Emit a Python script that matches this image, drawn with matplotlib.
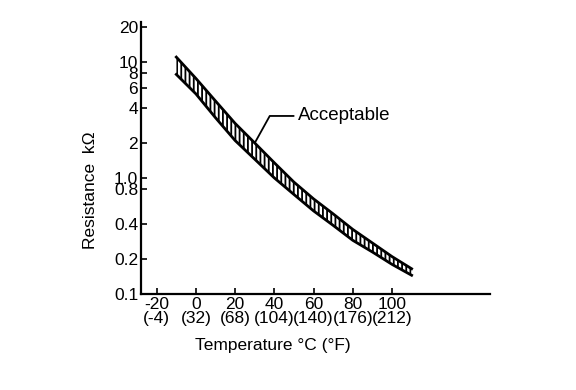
import matplotlib
matplotlib.use("Agg")
import matplotlib.pyplot as plt

plt.rcParams["font.family"] = ["Liberation Sans", "DejaVu Sans"]
plt.rcParams["hatch.linewidth"] = 1.3

# temperature (deg C) and acceptable resistance band (kOhm)
temps = [-10, 0, 10, 20, 30, 40, 50, 60, 70, 80, 90, 100, 110]
upper = [11.0, 7.2, 4.6, 2.95, 2.0, 1.35, 0.92, 0.66, 0.49, 0.36, 0.275, 0.21, 0.165]
lower = [7.8, 5.3, 3.3, 2.1, 1.45, 1.0, 0.72, 0.52, 0.39, 0.29, 0.23, 0.18, 0.145]

xticks = [-20, 0, 20, 40, 60, 80, 100]
xlabels = ["-20\n(-4)", "0\n(32)", "20\n(68)", "40\n(104)", "60\n(140)", "80\n(176)", "100\n(212)"]
yticks = [0.1, 0.2, 0.4, 0.8, 1.0, 2, 4, 6, 8, 10, 20]
ylabels = ["0.1", "0.2", "0.4", "0.8", "1.0", "2", "4", "6", "8", "10", "20"]

fig = plt.figure(figsize=(5.76, 3.90), dpi=100)
ax = fig.add_axes([0.2448, 0.2462, 0.606, 0.697])

ax.fill_between(temps, lower, upper, facecolor="white", edgecolor="black",
                hatch="||||", linewidth=0)
ax.plot(temps, upper, color="black", lw=2)
ax.plot(temps, lower, color="black", lw=2)

ax.set_yscale("log")
ax.set_xlim(-28, 150)
ax.set_ylim(0.1, 22)
ax.set_yticks(yticks)
ax.set_yticklabels(ylabels)
ax.minorticks_off()
ax.set_xticks(xticks)
ax.set_xticklabels(xlabels, linespacing=0.9)
ax.tick_params(axis="both", direction="in", length=4, width=1.2, labelsize=12.5, pad=2)

for s in ["top", "right"]:
    ax.spines[s].set_visible(False)
for s in ["left", "bottom"]:
    ax.spines[s].set_linewidth(1.6)

ax.set_ylabel("Resistance  k\u03a9", fontsize=12.5)
ax.yaxis.set_label_coords(-0.123, 0.38)
ax.set_xlabel("Temperature \u00b0C (\u00b0F)", fontsize=12.5)
ax.xaxis.set_label_coords(0.378, -0.163)

ax.annotate("Acceptable", xy=(30, 2.0), xytext=(52, 3.42), fontsize=13.5,
            va="center", ha="left",
            arrowprops=dict(arrowstyle="-", color="black", lw=1.3,
                            shrinkA=1, shrinkB=0,
                            connectionstyle="angle,angleA=0,angleB=61,rad=0"))

fig.savefig("out.png", dpi=100)
